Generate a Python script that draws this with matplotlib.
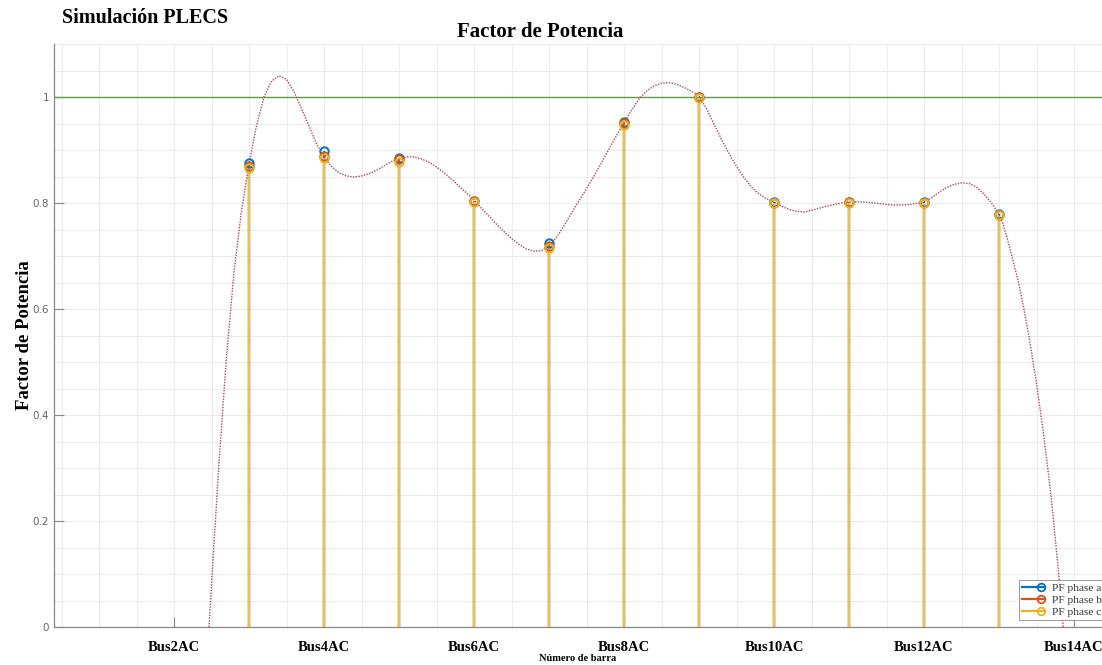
import numpy as np
import matplotlib
matplotlib.use("Agg")
import matplotlib.pyplot as plt
from matplotlib.lines import Line2D
from matplotlib.legend_handler import HandlerBase
from matplotlib.ticker import MultipleLocator

# buses with a measured power factor (Bus3 ... Bus13)
buses = np.arange(3, 14)
pf_a = [0.875, 0.898, 0.884, 0.804, 0.724, 0.952, 1.000, 0.801, 0.801, 0.801, 0.779]
pf_b = [0.870, 0.888, 0.883, 0.803, 0.719, 0.951, 1.000, 0.800, 0.801, 0.800, 0.778]
pf_c = [0.866, 0.885, 0.877, 0.802, 0.715, 0.947, 0.999, 0.800, 0.800, 0.800, 0.777]

# smoothed trend curve (bus index, power factor)
curve_x = [2.40, 2.467, 2.5, 2.6, 2.7, 2.8, 2.9, 3.0, 3.1, 3.2, 3.3, 3.4, 3.5, 3.6,
           3.7, 3.8, 3.9, 4.0, 4.1, 4.2, 4.3, 4.4, 4.5, 4.6, 4.7, 4.8, 4.9, 5.0,
           5.1, 5.2, 5.3, 5.4, 5.5, 5.6, 5.7, 5.8, 5.9, 6.0, 6.1, 6.2, 6.3, 6.4,
           6.5, 6.6, 6.7, 6.8, 6.9, 7.0, 7.1, 7.2, 7.3, 7.4, 7.5, 7.6, 7.7, 7.8,
           7.9, 8.0, 8.1, 8.2, 8.3, 8.4, 8.5, 8.6, 8.7, 8.8, 8.9, 9.0, 9.1, 9.2,
           9.3, 9.4, 9.5, 9.6, 9.7, 9.8, 9.9, 10.0, 10.1, 10.2, 10.3, 10.4, 10.5,
           10.6, 10.7, 10.8, 10.9, 11.0, 11.2, 11.4, 11.6, 11.8, 12.0, 12.1, 12.2,
           12.3, 12.4, 12.5, 12.6, 12.7, 12.8, 12.9, 13.0, 13.05, 13.1, 13.15,
           13.2, 13.25, 13.3, 13.4, 13.5, 13.6, 13.7, 13.8, 13.85, 13.9]
curve_y = [-0.17, 0.0, 0.08, 0.31, 0.51, 0.67, 0.785, 0.874, 0.946, 1.000, 1.030,
           1.040, 1.033, 1.010, 0.978, 0.945, 0.912, 0.887, 0.869, 0.857, 0.851,
           0.849, 0.851, 0.855, 0.862, 0.870, 0.878, 0.883, 0.887, 0.887, 0.883,
           0.877, 0.868, 0.857, 0.845, 0.832, 0.819, 0.806, 0.790, 0.775, 0.760,
           0.746, 0.733, 0.722, 0.713, 0.709, 0.710, 0.719, 0.735, 0.757, 0.781,
           0.804, 0.827, 0.851, 0.876, 0.902, 0.927, 0.951, 0.975, 0.996, 1.011,
           1.021, 1.026, 1.027, 1.024, 1.018, 1.011, 1.002, 0.978, 0.949, 0.920,
           0.893, 0.869, 0.848, 0.830, 0.817, 0.808, 0.802, 0.794, 0.788, 0.784,
           0.783, 0.786, 0.790, 0.794, 0.797, 0.800, 0.802, 0.802, 0.799, 0.796,
           0.797, 0.802, 0.810, 0.820, 0.829, 0.835, 0.838, 0.837, 0.830, 0.817,
           0.800, 0.779, 0.762, 0.738, 0.712, 0.684, 0.656, 0.624, 0.548, 0.460,
           0.358, 0.240, 0.095, 0.010, -0.08]

tick_pos = [2, 4, 6, 8, 10, 12, 14]
tick_labels = ["Bus2AC", "Bus4AC", "Bus6AC", "Bus8AC", "Bus10AC", "Bus12AC", "Bus14AC"]

blue, orange, yellow = "#0072BD", "#D95319", "#EDB120"
serif = "Liberation Serif"


class EndMarkerHandler(HandlerBase):
    # legend entry drawn as a line with the marker at its right end
    def create_artists(self, legend, orig, xdescent, ydescent, width, height,
                       fontsize, trans):
        y = height / 2 - ydescent
        line = Line2D([-xdescent, -xdescent + width], [y, y],
                      color=orig.get_color(), lw=1.6, transform=trans)
        mark = Line2D([-xdescent + width - 3], [y], marker="o", ms=5.5,
                      mfc="none", mec=orig.get_color(), mew=1.3, transform=trans)
        return [line, mark]


fig = plt.figure(figsize=(11.02, 6.65), dpi=100)
ax = fig.add_axes([54 / 1102, 38 / 665, 1048 / 1102, 583 / 665])

for vals, col, stem_col in [(pf_a, blue, blue), (pf_b, orange, orange),
                            (pf_c, yellow, "#e8c24e")]:
    ml, sl, bl = ax.stem(buses, vals)
    sl.set_color(stem_col)
    sl.set_linewidth(1.6)
    sl.set_zorder(2)
    ml.set_markerfacecolor("none")
    ml.set_markeredgecolor(col)
    ml.set_markersize(6)
    ml.set_markeredgewidth(1.4)
    ml.set_zorder(4)
    bl.set_visible(False)

ax.plot(curve_x, curve_y, ls=(0, (1, 1)), color="#a84a5c", lw=1.0, zorder=3)
ax.axhline(1.0, color="#5f9a50", lw=1.0, zorder=2.5)

ax.set_xlim(0.4, 0.4 + 1048 / 75)
ax.set_ylim(0, 1.1)
ax.set_xticks(tick_pos)
ax.set_xticklabels(tick_labels, fontfamily=serif, fontweight="bold", fontsize=10.5)
ax.xaxis.set_minor_locator(MultipleLocator(0.5))
ax.set_yticks([0, 0.2, 0.4, 0.6, 0.8, 1.0])
ax.set_yticklabels(["0", "0.2", "0.4", "0.6", "0.8", "1"], fontsize=7.5, color="#666666")
ax.yaxis.set_minor_locator(MultipleLocator(0.05))
ax.tick_params(which="major", direction="in", length=7, width=0.8, color="#888888")
ax.tick_params(axis="x", which="major", pad=10)
ax.tick_params(which="minor", length=0)
ax.grid(True, which="both", color="#ececec", lw=0.8)
ax.set_axisbelow(True)

for side in ["top", "right"]:
    ax.spines[side].set_visible(False)
for side in ["left", "bottom"]:
    ax.spines[side].set_color("#888888")
    ax.spines[side].set_linewidth(0.9)

ax.set_xlabel("Número de barra", fontfamily=serif, fontweight="bold", fontsize=7.5)
ax.xaxis.set_label_coords(0.5, -0.046)
ax.set_ylabel("Factor de Potencia", fontfamily=serif, fontweight="bold", fontsize=13.5)
ax.yaxis.set_label_coords(-0.020, 0.5)

fig.text(540 / 1102, 1 - 32 / 665, "Factor de Potencia", fontfamily=serif,
         fontweight="bold", fontsize=15, ha="center", va="center")
fig.text(62 / 1102, 1 - 18 / 665, "Simulación PLECS", fontfamily=serif,
         fontweight="bold", fontsize=14.5, ha="left", va="center")

handles = [Line2D([], [], color=c) for c in (blue, orange, yellow)]
leg = ax.legend(handles, ["PF phase a", "PF phase b", "PF phase c"],
                handler_map={Line2D: EndMarkerHandler()},
                loc="lower right", bbox_to_anchor=(1.003, 0.012), borderaxespad=0,
                prop={"family": serif, "size": 8.2}, fancybox=False,
                edgecolor="#999999", framealpha=1, handlelength=2.0,
                handletextpad=0.6, labelspacing=0.15, borderpad=0.3)
leg.get_frame().set_linewidth(0.7)
for t in leg.get_texts():
    t.set_color("#333333")

fig.savefig("out.png", dpi=100)
